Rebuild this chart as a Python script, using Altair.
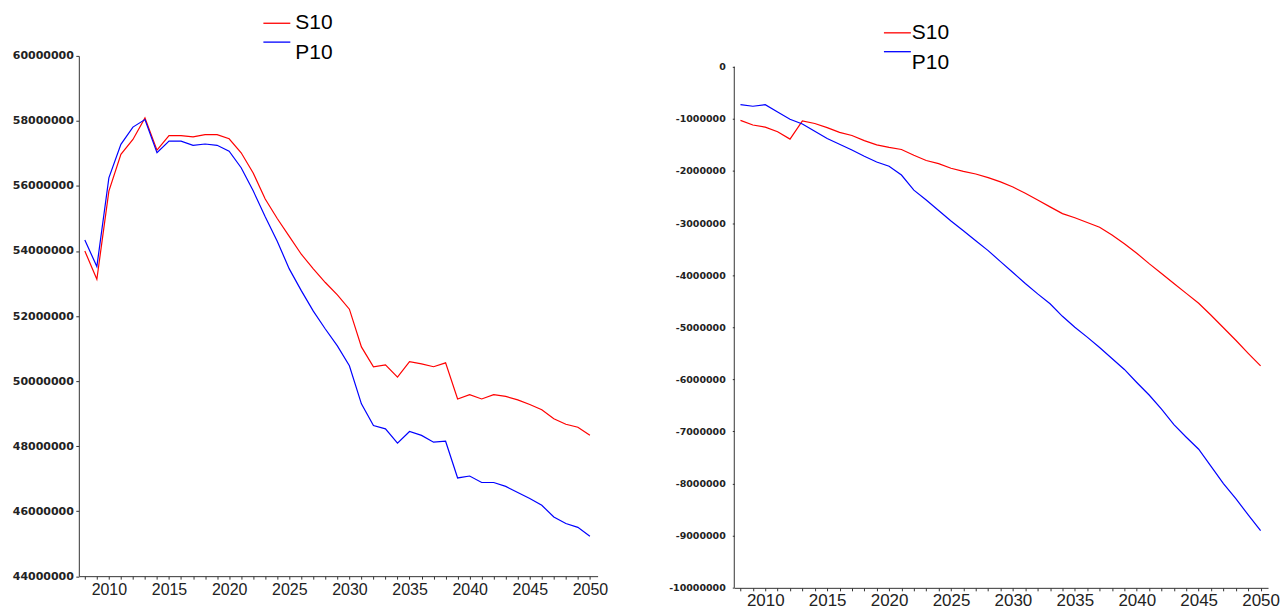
import altair as alt
import pandas as pd

# ---------------- data ----------------
years = list(range(2008, 2051))

series_names = ["S10", "P10"]
series_colors = ["#ff0000", "#0000ff"]

# left panel (totals)
s10_total = [54000000, 53130000, 55840000, 56970000, 57430000, 58090000, 57100000,
             57550000, 57550000, 57510000, 57580000, 57580000, 57450000, 57020000,
             56400000, 55600000, 55000000, 54450000, 53900000, 53450000, 53030000,
             52650000, 52210000, 51050000, 50440000, 50500000, 50120000, 50600000,
             50530000, 50440000, 50560000, 49450000, 49580000, 49450000, 49580000,
             49530000, 49420000, 49280000, 49120000, 48840000, 48670000, 48580000,
             48330000]
p10_total = [54340000, 53520000, 56250000, 57280000, 57810000, 58040000, 57020000,
             57380000, 57380000, 57250000, 57290000, 57250000, 57070000, 56560000,
             55850000, 55050000, 54300000, 53450000, 52780000, 52150000, 51600000,
             51080000, 50470000, 49300000, 48630000, 48530000, 48090000, 48450000,
             48330000, 48120000, 48150000, 47020000, 47080000, 46880000, 46880000,
             46760000, 46570000, 46390000, 46180000, 45820000, 45620000, 45500000,
             45230000]

# right panel (differences)
s10_diff = [-1030000, -1120000, -1160000, -1250000, -1390000, -1040000, -1090000,
            -1170000, -1260000, -1320000, -1420000, -1500000, -1550000, -1590000,
            -1700000, -1800000, -1860000, -1950000, -2010000, -2060000, -2130000,
            -2210000, -2310000, -2430000, -2560000, -2690000, -2820000, -2900000,
            -2990000, -3080000, -3230000, -3400000, -3580000, -3780000, -3970000,
            -4160000, -4350000, -4540000, -4770000, -5010000, -5250000, -5500000,
            -5740000]
p10_diff = [-730000, -760000, -730000, -870000, -1010000, -1100000, -1240000,
            -1380000, -1490000, -1600000, -1720000, -1830000, -1910000, -2080000,
            -2370000, -2560000, -2760000, -2960000, -3150000, -3340000, -3530000,
            -3740000, -3950000, -4160000, -4360000, -4550000, -4790000, -5000000,
            -5190000, -5390000, -5600000, -5810000, -6060000, -6300000, -6570000,
            -6870000, -7110000, -7340000, -7670000, -8000000, -8290000, -8600000,
            -8900000]

left_y_ticks = [44000000, 46000000, 48000000, 50000000, 52000000,
                54000000, 56000000, 58000000, 60000000]
right_y_ticks = [0, -1000000, -2000000, -3000000, -4000000, -5000000,
                 -6000000, -7000000, -8000000, -9000000, -10000000]


def long_table(a, b):
    return pd.DataFrame({
        "year": years + years,
        "value": a + b,
        "series": [series_names[0]] * len(years) + [series_names[1]] * len(years),
    })


left_df = long_table(s10_total, p10_total)
right_df = long_table(s10_diff, p10_diff)
axis_df = pd.DataFrame({"lo": [min(right_y_ticks)], "hi": [max(right_y_ticks)]})

AX = "#333333"


def legend(lx, ly, offset, baseline):
    return alt.Legend(
        title=None, orient="none", legendX=lx, legendY=ly, direction="vertical",
        symbolType="stroke", symbolSize=729, symbolStrokeWidth=1.3,
        labelFont="Liberation Sans", labelFontSize=21, labelColor="black",
        labelBaseline=baseline, labelOffset=offset, padding=0,
    )


def x_axis(font_size, pad):
    return alt.Axis(
        title=None, values=years, grid=False, tickSize=3, labelPadding=pad,
        labelExpr="datum.value % 5 == 0 ? datum.value + '' : ''",
        labelFont="Liberation Sans", labelFontSize=font_size, labelColor="#222222",
        labelFlush=False, labelOverlap=False, domainColor=AX, tickColor=AX,
    )


def series_layers(df, x_enc, y_enc, y_enc_second, legends):
    out = []
    for i, (name, col) in enumerate(zip(series_names, series_colors)):
        lx, ly, off, base = legends[i]
        out.append(
            alt.Chart(df).transform_filter(alt.datum.series == name)
            .mark_line(strokeWidth=1.2)
            .encode(
                x=x_enc,
                y=y_enc if i == 0 else y_enc_second,
                color=alt.Color("series:N",
                                scale=alt.Scale(domain=[name], range=[col]),
                                legend=legend(lx, ly, off, base)),
                order="year:Q",
            )
        )
    return out


# ---------------- left panel ----------------
lx_enc = alt.X("year:Q", scale=alt.Scale(domain=[2007.5, 2050.64], nice=False, zero=False),
               axis=x_axis(16, 2.6))
ly_enc = alt.Y("value:Q", scale=alt.Scale(domain=[44000000, 60000000], nice=False, zero=False),
               axis=alt.Axis(title=None, values=left_y_ticks, grid=False, tickSize=3,
                             labelPadding=2.5, labelExpr="datum.value + ''",
                             labelFont="DejaVu Sans", labelFontWeight="bold",
                             labelFontSize=11, labelColor="#222222", labelFlush=False,
                             domainColor=AX, tickColor=AX))

left = alt.layer(
    *series_layers(left_df, lx_enc, ly_enc, ly_enc,
                   [(184, -47.2, 4, "middle"), (184, -28.3, 4, "top")])
).resolve_scale(color="independent").resolve_legend(color="independent").properties(
    width=520, height=521.5)

# ---------------- right panel ----------------
rx_enc = alt.X("year:Q", scale=alt.Scale(domain=[2007.5, 2050.6], nice=False, zero=False),
               axis=x_axis(17, 1.3))
ry_scale = alt.Scale(domain=[-10000000, 206700], nice=False, zero=False)
ry_enc = alt.Y("value:Q", scale=ry_scale,
               axis=alt.Axis(title=None, values=right_y_ticks, grid=False, tickSize=2,
                             labelPadding=7, domain=False, labelExpr="datum.value + ''",
                             labelFont="DejaVu Sans", labelFontWeight="bold",
                             labelFontSize=9.5, labelColor="#222222", labelFlush=False,
                             tickColor=AX))
ry_enc2 = alt.Y("value:Q", scale=ry_scale, axis=None)

right_axis_line = alt.Chart(axis_df).mark_rule(color=AX, strokeWidth=1).encode(
    x=alt.value(0),
    y=alt.Y("lo:Q", axis=None),
    y2="hi:Q",
)

right = alt.layer(
    *series_layers(right_df, rx_enc, ry_enc, ry_enc2,
                   [(149, -37.6, 0, "middle"), (149, -18.7, 0, "top")]),
    right_axis_line,
).resolve_scale(color="independent").resolve_legend(color="independent").resolve_axis(
    y="independent"
).properties(width=535, height=533.2)

chart = alt.hconcat(left, right, spacing=137, bounds="flush").resolve_scale(
    color="independent", x="independent", y="independent"
).resolve_legend(color="independent").properties(
    padding={"left": 12, "top": 7.3, "right": 0, "bottom": 0},
    background="white",
).configure_view(stroke=None)

chart.save("out.html", embed_options={"renderer": "svg", "actions": False})
